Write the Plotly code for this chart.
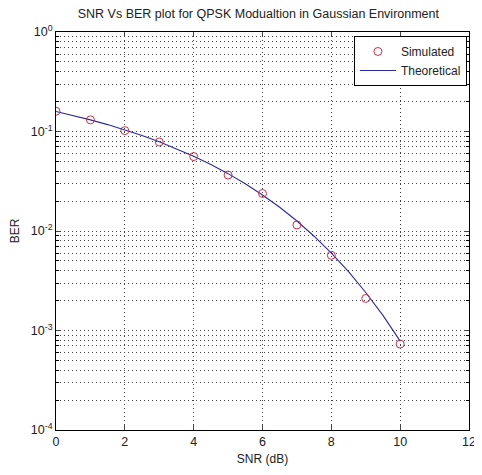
import plotly.graph_objects as go

snr_sim = [0, 1, 2, 3, 4, 5, 6, 7, 8, 9, 10]
ber_sim = [0.160, 0.131, 0.102, 0.0785, 0.0560, 0.0365, 0.0238, 0.0115, 0.0057, 0.0021, 0.00073]

snr_theory = [0, 0.5, 1, 1.5, 2, 2.5, 3, 3.5, 4, 4.5, 5, 5.5, 6, 6.5, 7, 7.5, 8, 8.5, 9, 9.5, 10]
ber_theory = [0.1587, 0.1447, 0.1309, 0.1173, 0.1040, 0.0912, 0.0789, 0.0673, 0.0565, 0.0466,
              0.0377, 0.0298, 0.0230, 0.0173, 0.0126, 0.00886, 0.0060, 0.0039, 0.00241, 0.00142,
              0.000783]

x_ticks = [0, 2, 4, 6, 8, 10, 12]
y_ticks = [1e-4, 1e-3, 1e-2, 1e-1, 1e0]
y_ticktext = ["10<sup>-4</sup>", "10<sup>-3</sup>", "10<sup>-2</sup>", "10<sup>-1</sup>", "10<sup>0</sup>"]
y_minor = [m * 10 ** e for e in range(-4, 0) for m in range(2, 10)]

FONT = "Liberation Sans, Arial, sans-serif"
DOT = "1px,3px"

fig = go.Figure()
fig.add_trace(go.Scatter(
    x=snr_theory, y=ber_theory, mode="lines", name="Theoretical",
    line=dict(color="#2a2a9c", width=1.1),
))
fig.add_trace(go.Scatter(
    x=snr_sim, y=ber_sim, mode="markers", name="Simulated",
    marker=dict(symbol="circle-open", size=8, color="#c8304a", line=dict(width=1)),
))

grid = dict(showgrid=True, gridcolor="#444444", gridwidth=1, griddash=DOT)

fig.update_layout(
    width=474, height=467,
    margin=dict(l=45, r=6, t=24, b=45),
    paper_bgcolor="white", plot_bgcolor="white",
    font=dict(family=FONT, size=12, color="#222222"),
    title=dict(text="SNR Vs BER plot for QPSK Modualtion in Gaussian Environment",
               x=0.49, xanchor="center", xref="paper", y=0.998, yanchor="top",
               font=dict(size=12.5, family=FONT, color="#222222")),
    showlegend=True,
    legend=dict(x=0.995, y=0.99, xanchor="right", yanchor="top",
                bgcolor="white", bordercolor="black", borderwidth=1,
                font=dict(size=12, family=FONT), traceorder="reversed",
                itemwidth=36, tracegroupgap=0),
    xaxis=dict(range=[0, 12], tickvals=x_ticks, ticks="inside", ticklen=5,
               showline=True, linecolor="black", linewidth=1, mirror="ticks",
               ticklabeloverflow="allow", tickfont=dict(size=12.5),
               zeroline=False, title=dict(text="SNR (dB)", standoff=6, font=dict(size=12)),
               **grid),
    yaxis=dict(type="log", range=[-4, 0], tickvals=y_ticks, ticktext=y_ticktext,
               ticks="inside", ticklen=5, tickfont=dict(size=12.5),
               showline=True, linecolor="black", linewidth=1, mirror="ticks",
               zeroline=False, title=dict(text="BER", standoff=8, font=dict(size=12)),
               minor=dict(tickvals=y_minor, ticks="inside", ticklen=3, tickcolor="black",
                          showgrid=True, gridcolor="#444444", gridwidth=1, griddash=DOT),
               **grid),
)

fig.write_html("out.html")
